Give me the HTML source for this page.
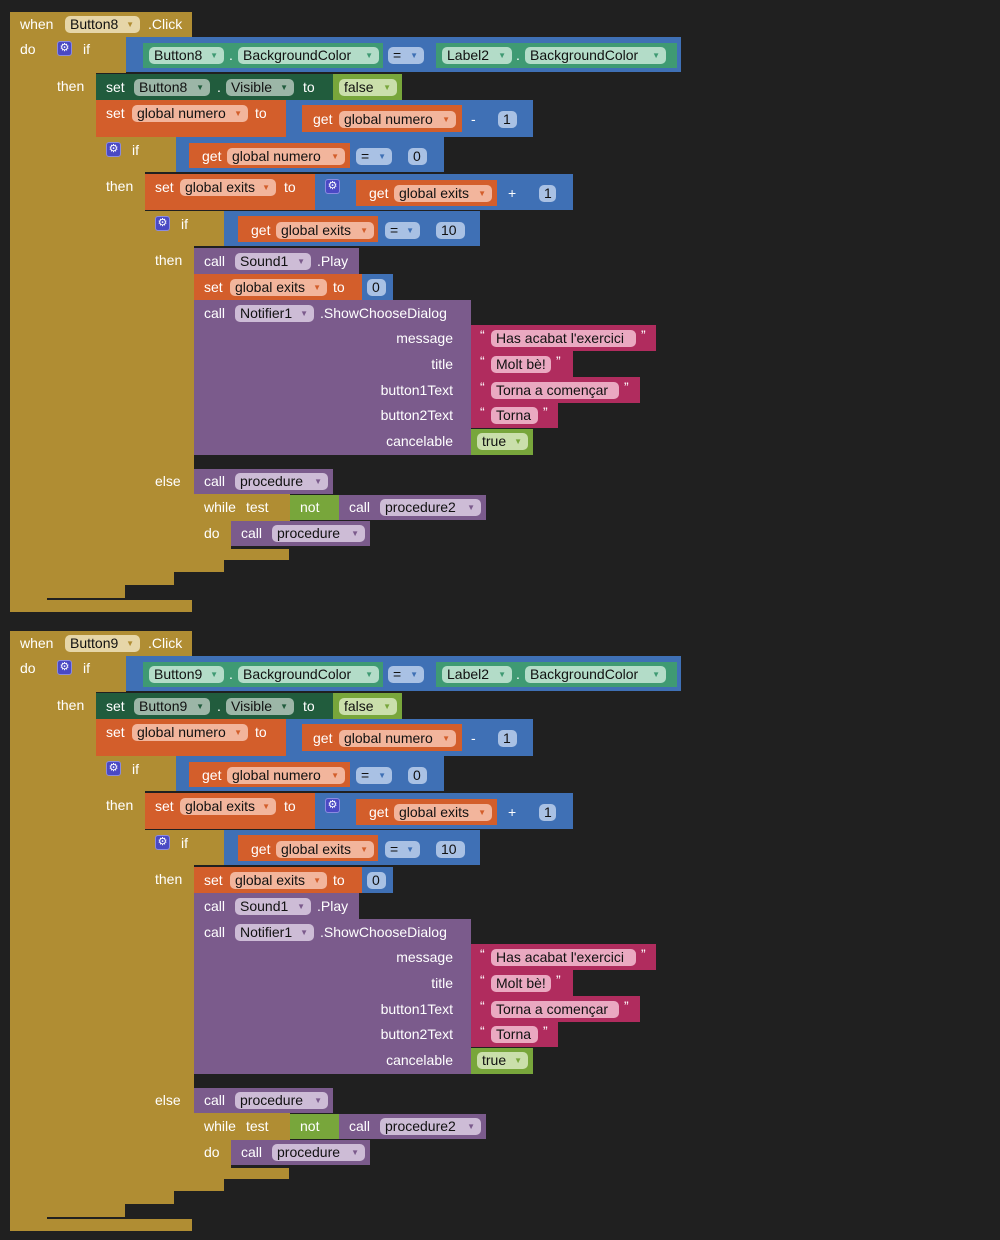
<!DOCTYPE html>
<html><head><meta charset="utf-8">
<style>
html,body{margin:0;padding:0;background:#202020;width:1000px;height:1240px;overflow:hidden;font-family:"Liberation Sans",sans-serif;}
#ws{position:relative;width:1000px;height:1240px;}
.b{position:absolute;box-sizing:border-box;}
.t{position:absolute;color:#fff;font-size:14px;line-height:16px;white-space:nowrap;}
.p{position:absolute;box-sizing:border-box;height:17px;border-radius:5px;font-size:14px;line-height:17px;color:#111;padding-left:5px;white-space:nowrap;}
.p .d{position:absolute;right:6px;top:0;font-size:8px;}
.g{position:absolute;width:15px;height:15px;border-radius:3px;background:#4a49c4;border:1px solid #8b8be0;box-sizing:border-box;color:#fff;font-size:11px;line-height:13px;text-align:center;}
</style></head><body>
<div id="ws"></div>
<script>
const C={gold:'#b08d33',blue:'#3f70b5',teal:'#3f9a73',dgreen:'#215c3d',orange:'#d35e2b',purple:'#7b5b8c',mag:'#b02c5e',green:'#78a63b'};
const PC={gold:'#e6d6a8',blue:'#a9c1e4',teal:'#b3dcc8',dgreen:'#9cb6a7',orange:'#f2b59c',purple:'#cdbcd6',mag:'#eaa9c1',green:'#cadfab'};
const DC={gold:'#b08d33',blue:'#3f70b5',teal:'#3f9a73',dgreen:'#215c3d',orange:'#d35e2b',purple:'#7b5b8c',mag:'#b02c5e',green:'#78a63b'};
const ws=document.getElementById('ws');
function B(x,y,w,h,c,name){const e=document.createElement('div');e.className='b';
e.style.cssText=`left:${x}px;top:${y}px;width:${w}px;height:${h}px;background:${C[c]};`;


ws.appendChild(e);}
function T(x,y,s,name){const e=document.createElement('div');e.className='t';e.style.left=x+'px';e.style.top=(y-8)+'px';e.textContent=s;


ws.appendChild(e);}
function P(x,y,w,s,c,name,dd){const e=document.createElement('div');e.className='p';
e.style.cssText=`left:${x}px;top:${y-8}px;width:${w}px;background:${PC[c]};`;e.textContent=s;
if(dd!==false){const d=document.createElement('span');d.className='d';d.textContent='▼';d.style.color=DC[c];e.appendChild(d);}


ws.appendChild(e);}
function G(x,y,name){const e=document.createElement('div');e.className='g';e.style.left=x+'px';e.style.top=(y-8)+'px';e.textContent='⚙';


ws.appendChild(e);}

function draw(o,btn,swap){
 const Y=v=>v+o;
 B(10,Y(12),182,25,'gold','when-click-event');
 B(10,Y(12),37,600,'gold','event-body-left');
 B(10,Y(600),182,12,'gold','event-bottom');
 T(20,Y(24),'when','when-label');P(65,Y(24),75,btn,'gold','event-component-dropdown');T(148,Y(24),'.Click','click-label');
 T(20,Y(49),'do','do-label');
 B(47,Y(37),79,36,'gold','if-block');
 B(47,Y(37),49,561,'gold','if-body-left');
 B(47,Y(585),78,13,'gold','if-bottom');
 G(57,Y(49),'if-mutator-gear');T(83,Y(49),'if','if-label');T(57,Y(86),'then','then-label');
 B(126,Y(37),555,35,'blue','compare-block');
 B(143,Y(43),240,25,'teal','button-bgcolor-getter');
 P(149,Y(55),75,btn,'teal','button-dropdown');T(229,Y(55),'.','dot');P(238,Y(55),141,'BackgroundColor','teal','property-dropdown');
 P(388,Y(55),36,'=','blue','equals-dropdown');
 B(436,Y(43),241,25,'teal','label-bgcolor-getter');
 P(442,Y(55),70,'Label2','teal','label-dropdown');T(516,Y(55),'.','dot');P(525,Y(55),141,'BackgroundColor','teal','property-dropdown');
 B(96,Y(74),237,26,'dgreen','set-visible-block');
 T(106,Y(87),'set','set-label');P(134,Y(87),76,btn,'dgreen','button-dropdown');T(217,Y(87),'.','dot');P(226,Y(87),68,'Visible','dgreen','visible-dropdown');T(303,Y(87),'to','to-label');
 B(333,Y(74),69,26,'green','false-block');P(339,Y(87),58,'false','green','false-dropdown');
 B(96,Y(100),190,37,'orange','set-numero-block');
 T(106,Y(113),'set','set-label');P(132,Y(113),116,'global numero','orange','var-dropdown');T(255,Y(113),'to','to-label');
 B(286,Y(100),247,37,'blue','subtract-block');
 B(302,Y(105),160,27,'orange','get-numero-block');T(313,Y(119),'get','get-label');P(339,Y(119),117,'global numero','orange','var-dropdown');
 T(471,Y(119),'-','minus-label');B(492,Y(108),30,22,'blue','number-1-block');P(498,Y(119),19,'1','blue','number-1',false);
 B(96,Y(137),80,35,'gold','inner-if-block');
 B(96,Y(137),49,448,'gold','inner-if-body-left');
 B(96,Y(572),78,13,'gold','inner-if-bottom');
 G(106,Y(150),'if-mutator-gear');T(132,Y(150),'if','if-label');T(106,Y(186),'then','then-label');
 B(176,Y(137),268,35,'blue','compare-numero-block');
 B(189,Y(143),161,25,'orange','get-numero-block');T(202,Y(156),'get','get-label');P(227,Y(156),118,'global numero','orange','var-dropdown');
 P(356,Y(156),36,'=','blue','equals-dropdown');
 B(403,Y(143),30,24,'blue','number-0-block');P(408,Y(156),19,'0','blue','number-0',false);
 B(145,Y(174),170,36,'orange','set-exits-block');
 T(155,Y(187),'set','set-label');P(180,Y(187),96,'global exits','orange','var-dropdown');T(284,Y(187),'to','to-label');
 B(315,Y(174),258,36,'blue','add-block');G(325,Y(187),'add-mutator-gear');
 B(356,Y(180),141,26,'orange','get-exits-block');T(369,Y(193),'get','get-label');P(394,Y(193),98,'global exits','orange','var-dropdown');
 T(508,Y(193),'+','plus-label');B(533,Y(181),30,24,'blue','number-1-block');P(539,Y(193),17,'1','blue','number-1',false);
 B(145,Y(211),79,35,'gold','exits-if-block');
 B(145,Y(211),49,361,'gold','exits-if-body-left');
 B(145,Y(560),79,12,'gold','exits-if-bottom');
 G(155,Y(224),'if-mutator-gear');T(181,Y(224),'if','if-label');T(155,Y(260),'then','then-label');T(155,Y(481),'else','else-label');
 B(224,Y(211),256,35,'blue','compare-exits-block');
 B(238,Y(216),140,26,'orange','get-exits-block');T(251,Y(230),'get','get-label');P(276,Y(230),98,'global exits','orange','var-dropdown');
 P(385,Y(230),35,'=','blue','equals-dropdown');
 B(431,Y(218),39,24,'blue','number-10-block');P(436,Y(230),29,'10','blue','number-10',false);
 const ys=swap?274:248, yr=swap?248:274;
 B(194,Y(ys),165,26,'purple','call-sound-play');
 T(204,Y(ys+13),'call','call-label');P(235,Y(ys+13),76,'Sound1','purple','sound-dropdown');T(317,Y(ys+13),'.Play','play-label');
 B(194,Y(yr),168,26,'orange','set-exits-zero-block');
 T(204,Y(yr+13),'set','set-label');P(230,Y(yr+13),97,'global exits','orange','var-dropdown');T(333,Y(yr+13),'to','to-label');
 B(362,Y(yr),31,26,'blue','number-0-block');P(367,Y(yr+13),19,'0','blue','number-0',false);
 B(194,Y(300),277,155,'purple','call-show-choose-dialog');
 T(204,Y(313),'call','call-label');P(235,Y(313),79,'Notifier1','purple','notifier-dropdown');T(320,Y(313),'.ShowChooseDialog','method-label');
 const args=[['message',338,656,"Has acabat l'exercici",145],['title',364,573,'Molt bè!',60],['button1Text',390,640,'Torna a començar',128],['button2Text',415,558,'Torna',47]];
 args.forEach(a=>{const e=document.createElement('div');e.className='t';e.style.top=Y(a[1]-8)+'px';e.style.right=(1000-453)+'px';e.textContent=a[0];
  
  
  ws.appendChild(e);
  B(471,Y(a[1]-13),a[2]-471,26,'mag','text-string-block');
  T(480,Y(a[1]-3),'“','quote');P(491,Y(a[1]),a[4],a[3],'mag','text-value',false);T(491+a[4]+5,Y(a[1]-3),'”','quote');});
 {const e=document.createElement('div');e.className='t';e.style.top=Y(433)+'px';e.style.right=(1000-453)+'px';e.textContent='cancelable';
  
  
  ws.appendChild(e);}
 B(471,Y(429),62,26,'green','true-block');P(477,Y(441),51,'true','green','true-dropdown');
 B(194,Y(469),139,25,'purple','call-procedure');
 T(204,Y(481),'call','call-label');P(235,Y(481),93,'procedure','purple','procedure-dropdown');
 B(194,Y(494),96,27,'gold','while-block');
 B(194,Y(494),37,66,'gold','while-body-left');
 B(194,Y(549),95,11,'gold','while-bottom');
 T(204,Y(507),'while','while-label');T(246,Y(507),'test','test-label');T(204,Y(533),'do','do-label');
 B(290,Y(495),49,25,'green','not-block');T(300,Y(507),'not','not-label');
 B(339,Y(495),147,25,'purple','call-procedure2');T(349,Y(507),'call','call-label');P(380,Y(507),101,'procedure2','purple','procedure2-dropdown');
 B(231,Y(521),139,25,'purple','call-procedure');T(241,Y(533),'call','call-label');P(272,Y(533),93,'procedure','purple','procedure-dropdown');
}
draw(0,'Button8',false);
draw(619,'Button9',true);
</script>
</body></html>
